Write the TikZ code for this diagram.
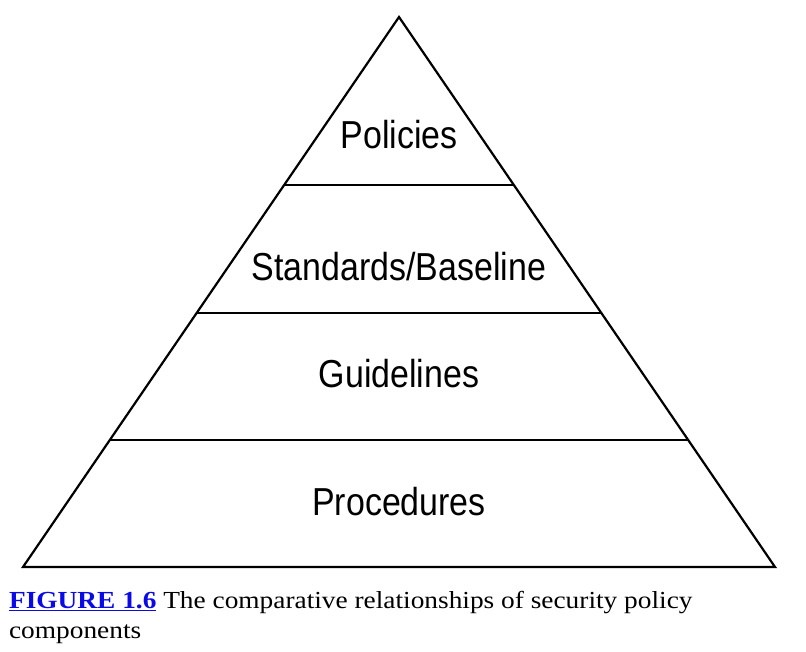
\documentclass[tikz,border=0pt]{standalone}
\usepackage{fontspec}
\setmainfont[FakeStretch=1.116]{Liberation Serif}
\newfontfamily\pyrfont[FakeStretch=0.87]{Liberation Sans}
\definecolor{figblue}{RGB}{10,10,230}
\usepackage{tikz}
\usetikzlibrary{calc}

\begin{document}
\begin{tikzpicture}[x=1pt,y=-1pt,line width=2.2pt,
  layer/.style={font=\pyrfont\fontsize{39}{44}\selectfont,anchor=base},
  caption/.style={font=\fontsize{24.5}{29}\selectfont,anchor=base west,inner sep=0pt}]
\useasboundingbox (0,0) rectangle (806,651);
\coordinate (apex) at (399,17);
\coordinate (left) at (23,567);
\coordinate (right) at (775,567);
\draw[line join=miter] (apex) -- (left) -- (right) -- cycle;
% layer borders
\foreach \t/\name in {0.3055/a,0.538/b,0.769/c}
  \draw ($(apex)!\t!(left)$) coordinate (\name l) -- ($(apex)!\t!(right)$) coordinate (\name r);
\node[layer] (policies) at (399,148) {Policies};
\node[layer] (standards) at (399,280) {Standards/Baseline};
\node[layer] (guidelines) at (399,387) {Guidelines};
\node[layer] (procedures) at (399,515) {Procedures};
\node[caption] (cap1) at (8,608) {\textcolor{figblue}{\underline{\textbf{FIGURE 1.6}}} The comparative relationships of security policy};
\node[caption] (cap2) at (8,638) {components};
\end{tikzpicture}
\end{document}
